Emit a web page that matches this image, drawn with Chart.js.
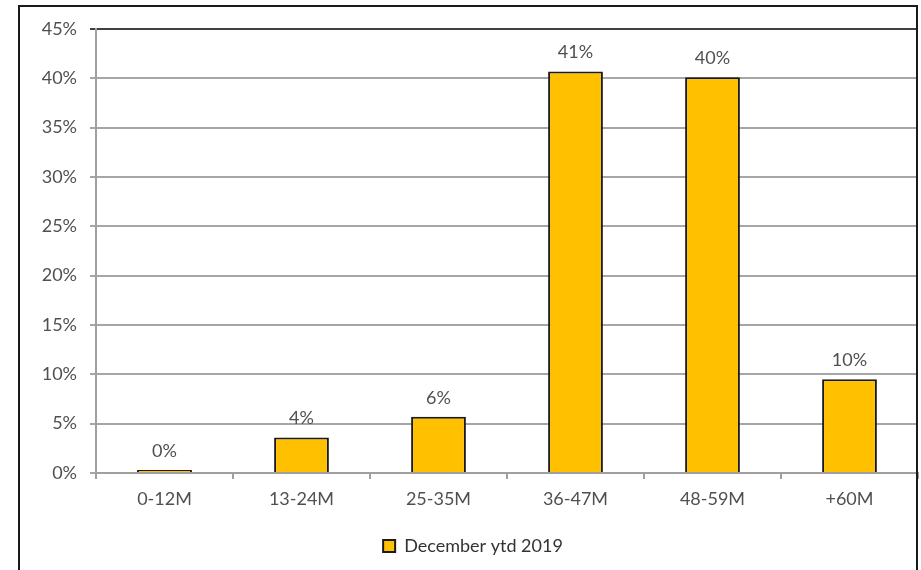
<!DOCTYPE html>
<html>
<head>
<meta charset="utf-8">
<script src="https://cdn.jsdelivr.net/npm/chart.js@4"></script>
<style>
  html, body { margin: 0; padding: 0; background: #fff; }
  #wrap { width: 921px; height: 570px; }
</style>
</head>
<body>
<div id="wrap"><canvas id="ageChart" width="921" height="570"></canvas></div>
<script>
// age buckets (months) and share of units
const categories = ['0-12M', '13-24M', '25-35M', '36-47M', '48-59M', '+60M'];
const shares = [0.3, 3.6, 5.7, 40.7, 40.1, 9.5];
const seriesName = 'December ytd 2019';
const yTicks = [0, 5, 10, 15, 20, 25, 30, 35, 40, 45];

const font = 'Lato, "Open Sans", sans-serif';

// percent labels over each bar
const barLabels = {
    id: 'barLabels',
    afterDatasetsDraw(chart) {
        const ctx = chart.ctx;
        const meta = chart.getDatasetMeta(0);
        ctx.save();
        ctx.fillStyle = '#505050';
        ctx.font = '18px ' + font;
        ctx.textAlign = 'center';
        ctx.textBaseline = 'middle';
        meta.data.forEach((bar, i) => {
            ctx.fillText(Math.round(shares[i]) + '%', bar.x, bar.y - 19);
        });
        ctx.restore();
    }
};

// frame round the whole picture
const frame = {
    id: 'frame',
    afterDraw(chart) {
        const ctx = chart.ctx;
        ctx.save();
        ctx.strokeStyle = '#1a1a1a';
        ctx.lineWidth = 2;
        ctx.strokeRect(19, 6, 898, 600);
        ctx.restore();
    }
};

new Chart(document.getElementById('ageChart'), {
    type: 'bar',
    data: {
        labels: categories,
        datasets: [{
            label: seriesName,
            data: shares,
            backgroundColor: '#FFC000',
            borderColor: '#1a1a1a',
            borderWidth: 2,
            barPercentage: 0.4,
            categoryPercentage: 1.0
        }]
    },
    options: {
        responsive: false,
        animation: false,
        layout: { padding: { left: 28, top: 29, right: 3, bottom: 5 } },
        scales: {
            x: {
                grid: { drawOnChartArea: false, drawTicks: true, tickLength: 6, color: '#a0a0a0', lineWidth: 2 },
                border: { color: '#a0a0a0', width: 2 },
                ticks: { color: '#505050', font: { family: font, size: 18 }, padding: 9 },
                afterFit(scale) { scale.height = 54; }
            },
            y: {
                min: 0,
                max: 45,
                afterBuildTicks(scale) { scale.ticks = yTicks.map(v => ({ value: v })); },
                grid: {
                    color: ctx => ctx.tick && ctx.tick.value === 45 ? '#404040' : '#a6a6a6',
                    lineWidth: 2,
                    tickLength: 6
                },
                border: { color: '#a0a0a0', width: 2 },
                ticks: {
                    color: '#505050',
                    font: { family: font, size: 18 },
                    padding: 13,
                    callback: v => v + '%'
                },
                afterFit(scale) { scale.width = 68; }
            }
        },
        plugins: {
            legend: {
                position: 'bottom',
                labels: {
                    color: '#333',
                    font: { family: font, size: 18 },
                    boxWidth: 12,
                    boxHeight: 12,
                    padding: 10
                }
            },
            tooltip: { enabled: false }
        }
    },
    plugins: [barLabels, frame]
});
</script>
</body>
</html>
